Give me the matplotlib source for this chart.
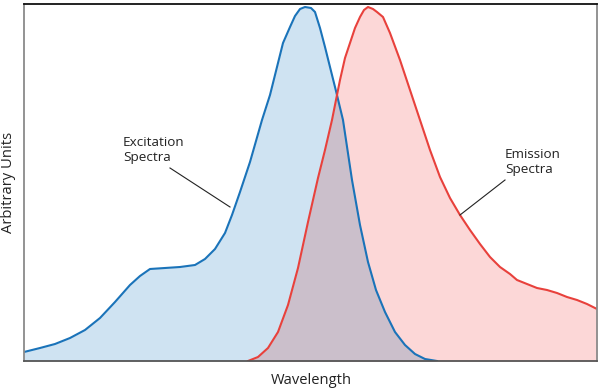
import numpy as np
import matplotlib.pyplot as plt

# excitation spectrum (arbitrary units)
exc_x = [0, 16, 31, 46, 61, 76, 91, 106, 116, 126, 141, 156, 171, 181, 191, 201, 208,
         216, 226, 238, 246, 254, 259, 266, 271, 276, 281, 287, 291, 296, 301, 306,
         312, 319, 328, 336, 344, 352, 361, 371, 381, 391, 401, 413]
exc_y = [9, 13, 17, 23, 31, 43, 59, 76, 85, 92, 93, 94, 96, 102, 112, 128, 146,
         169, 199, 241, 266, 298, 318, 334, 345, 352, 354, 353, 349, 333, 314, 294,
         270, 241, 181, 136, 99, 71, 49, 29, 16, 7, 2, 0]

# emission spectrum
em_x = [224, 234, 244, 254, 264, 274, 284, 294, 301, 308, 316, 321, 326, 331, 336,
        340, 344, 349, 353, 359, 366, 376, 386, 396, 406, 416, 426, 436, 446, 456,
        466, 476, 486, 493, 503, 513, 523, 533, 543, 553, 563, 573]
em_y = [0, 4, 13, 29, 56, 93, 139, 183, 211, 241, 281, 303, 318, 333, 344,
        351, 354, 352, 349, 344, 328, 301, 271, 241, 211, 184, 163, 146, 131, 117,
        104, 94, 87, 81, 77, 73, 71, 68, 64, 61, 57, 52]

blue = '#1a73b9'
red = '#e8413c'

fig = plt.figure(figsize=(6, 3.91), dpi=100)
ax = fig.add_axes([24 / 600, 1 - 361 / 391, 573 / 600, 357 / 391])

grid = np.linspace(0, 573, 1200)
b = np.interp(grid, exc_x, exc_y, left=0, right=0)
r = np.interp(grid, em_x, em_y, left=0, right=0)

ax.fill_between(grid, 0, b, color='#cfe3f2', lw=0)
ax.fill_between(grid, 0, r, color='#fcd7d7', lw=0)
ax.fill_between(grid, 0, np.minimum(b, r), color='#cbbfcb', lw=0)
ax.plot(exc_x, exc_y, color=blue, lw=1.5, solid_joinstyle='round')
ax.plot(em_x, em_y, color=red, lw=1.5, solid_joinstyle='round')

ax.set_xlim(0, 573)
ax.set_ylim(0, 357)
ax.set_xticks([])
ax.set_yticks([])

ax.spines['left'].set_color('#8a8a8a')
ax.spines['right'].set_color('#8a8a8a')
ax.spines['bottom'].set_color('#555555')
ax.spines['top'].set_color('#111111')
for s in ax.spines.values():
    s.set_linewidth(1.3)

font = ['Open Sans', 'DejaVu Sans']
ax.text(99, 211, 'Excitation\nSpectra', fontsize=9.7, family=font,
        color='#222222', va='center', ha='left', linespacing=1.2)
ax.plot([146, 206], [193, 154], color='#222222', lw=0.8)
ax.text(481, 199, 'Emission\nSpectra', fontsize=9.7, family=font,
        color='#222222', va='center', ha='left', linespacing=1.2)
ax.plot([481, 436], [181, 146], color='#222222', lw=0.8)

fig.text(311 / 600, 1 - 381 / 391, 'Wavelength', fontsize=10.6, family=font,
         color='#222222', ha='center', va='center')
fig.text(9 / 600, 1 - 182 / 391, 'Arbitrary Units', fontsize=10.6, family=font,
         color='#222222', ha='center', va='center', rotation=90)

fig.savefig('out.png', dpi=100)
